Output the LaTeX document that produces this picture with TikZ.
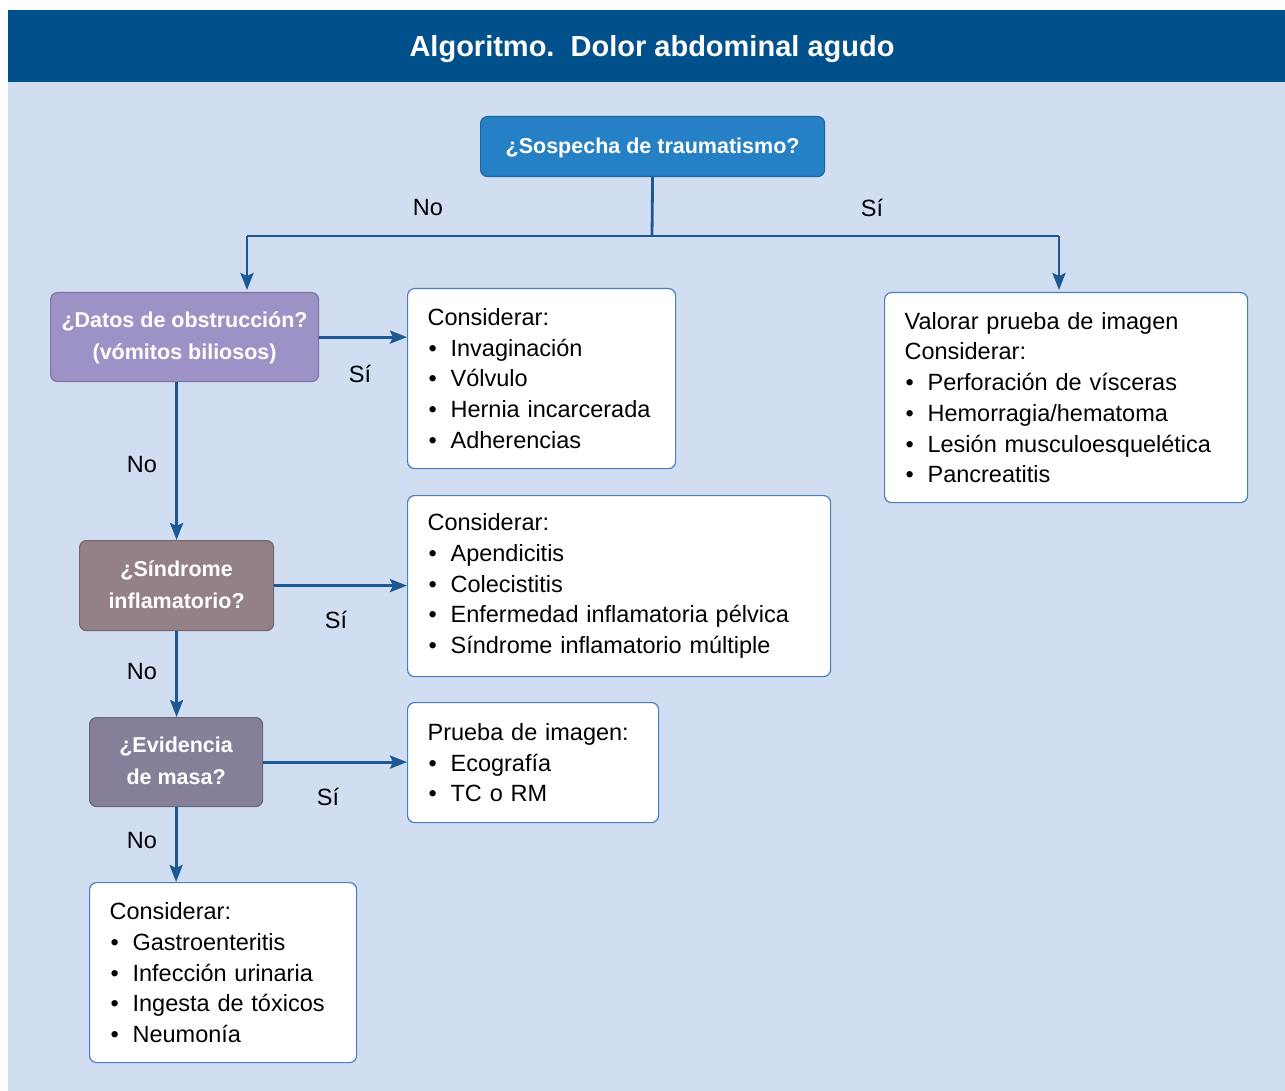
\documentclass[tikz,border=0pt]{standalone}
\usepackage{fontspec}
\setmainfont{Liberation Sans}
\usepackage{xcolor}
\usetikzlibrary{positioning,calc,arrows.meta}

\definecolor{headblue}{HTML}{00508C}
\definecolor{bgblue}{HTML}{D1DDF1}
\definecolor{traumablue}{HTML}{2680C5}
\definecolor{obstrpurple}{HTML}{9C92C6}
\definecolor{inflammauve}{HTML}{948087}
\definecolor{masagray}{HTML}{857F99}
\definecolor{linecol}{HTML}{1C5894}
\definecolor{boxborder}{HTML}{4A7FBF}

\newcommand{\itm}[1]{\makebox[23pt][l]{\hspace{1pt}\textbullet}#1}

\tikzset{
  question/.style={draw=#1!80!black, fill=#1, rounded corners=7pt, line width=1.2pt,
    anchor=north west, align=center, text=white, inner sep=0pt, text depth=2pt,
    font=\fontsize{21.5}{32}\selectfont\bfseries},
  listbox/.style={draw=boxborder, fill=white, rounded corners=7pt, line width=1.2pt,
    anchor=north west, align=left, inner xsep=20pt, inner ysep=0pt,
    font=\fontsize{23.5}{30.7}\selectfont},
  answer/.style={font=\fontsize{23.5}{28}\selectfont},
  conn/.style={draw=linecol, line width=2.8pt},
  arrow/.style={conn, -{Stealth[length=17pt,width=13pt,inset=3pt]}}
}

\begin{document}
\begin{tikzpicture}[x=1pt,y=-1pt]
    \useasboundingbox (0,0) rectangle (1285,1091);

    % Header and background
    \fill [bgblue] (8,82) rectangle (1285,1091);
    \fill [headblue] (8,10) rectangle (1285,82);
    \node [text=white, font=\fontsize{29}{34}\selectfont\bfseries] (title) at (652,49) {Algoritmo.\ \ Dolor abdominal agudo};

    % Questions
    \node [question=traumablue, minimum width=344pt, minimum height=60pt] (trauma) at (480,116) {¿Sospecha de traumatismo?};
    \node [question=obstrpurple, minimum width=268pt, minimum height=89pt] (obstr) at (50,292) {¿Datos de obstrucción?\\(vómitos biliosos)};
    \node [question=inflammauve, minimum width=194pt, minimum height=90pt] (inflam) at (79,540) {¿Síndrome\\inflamatorio?};
    \node [question=masagray, minimum width=173pt, minimum height=89pt] (masa) at (89,717) {¿Evidencia\\de masa?};

    % Lists
    \node [listbox, text width=323pt, minimum height=210pt] (imagen) at (884,292) {Valorar prueba de imagen\\Considerar:\\\itm{Perforación de vísceras}\\\itm{Hemorragia/hematoma}\\\itm{Lesión musculoesquelética}\\\itm{Pancreatitis}};
    \node [listbox, text width=228pt, minimum height=180pt] (obstrlist) at (407,288) {Considerar:\\\itm{Invaginación}\\\itm{Vólvulo}\\\itm{Hernia incarcerada}\\\itm{Adherencias}};
    \node [listbox, text width=383pt, minimum height=181pt] (inflamlist) at (407,495) {Considerar:\\\itm{Apendicitis}\\\itm{Colecistitis}\\\itm{Enfermedad inflamatoria pélvica}\\\itm{Síndrome inflamatorio múltiple}};
    \node [listbox, text width=211pt, minimum height=120pt] (masalist) at (407,702) {Prueba de imagen:\\\itm{Ecografía}\\\itm{TC o RM}};
    \node [listbox, text width=227pt, minimum height=180pt] (otros) at (89,882) {Considerar:\\\itm{Gastroenteritis}\\\itm{Infección urinaria}\\\itm{Ingesta de tóxicos}\\\itm{Neumonía}};

    % Connectors
    \coordinate (split) at (652,236);
    \coordinate (lsplit) at (247,236);
    \coordinate (rsplit) at (1059,236);
    \draw [conn] (trauma.south) -- (split);
    \draw [conn] (lsplit) -- (rsplit);
    \draw [arrow] (lsplit) -- ($(lsplit |- obstr.north)+(0,-2)$);
    \draw [arrow] (rsplit) -- ($(rsplit |- imagen.north)+(0,-2)$);
    \draw [arrow] (obstr.east) -- (obstr.east -| obstrlist.west);
    \draw [arrow] (obstr.south -| inflam.north) -- (inflam.north);
    \draw [arrow] (inflam.east) -- (inflam.east -| inflamlist.west);
    \draw [arrow] (inflam.south) -- (inflam.south |- masa.north);
    \draw [arrow] (masa.east) -- (masa.east -| masalist.west);
    \draw [arrow] (masa.south) -- (masa.south |- otros.north);

    % Answers
    \node [answer] (no0) at (428,208) {No};
    \node [answer] (si0) at (872,208) {Sí};
    \node [answer] (si1) at (360,374) {Sí};
    \node [answer] (no1) at (142,465) {No};
    \node [answer] (si2) at (336,620) {Sí};
    \node [answer] (no2) at (142,672) {No};
    \node [answer] (si3) at (328,797) {Sí};
    \node [answer] (no3) at (142,841) {No};
\end{tikzpicture}
\end{document}
